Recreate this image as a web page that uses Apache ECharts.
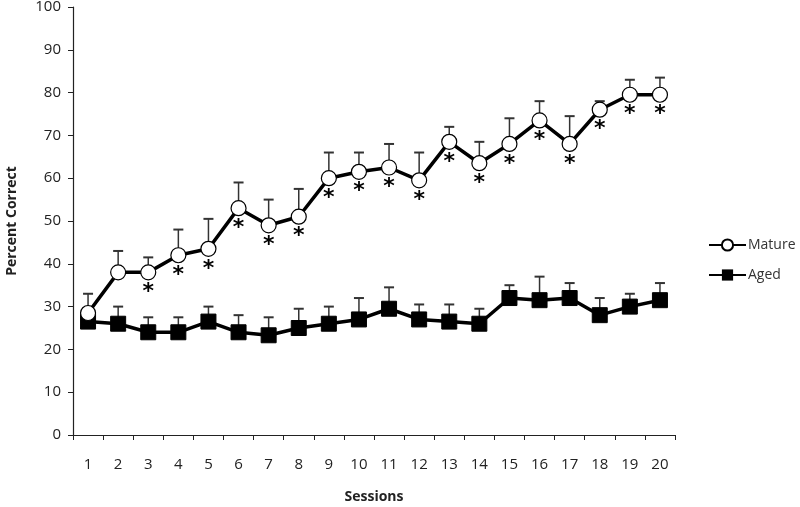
<!DOCTYPE html>
<html><head><meta charset="utf-8">
<script src="https://cdn.jsdelivr.net/npm/echarts@6/dist/echarts.min.js"></script>
<style>html,body{margin:0;padding:0;background:#fff}#c{width:800px;height:507px}</style>
</head><body><div id="c"></div>
<script>
const sessions = ['1','2','3','4','5','6','7','8','9','10','11','12','13','14','15','16','17','18','19','20'];
const matureMean = [28.5,38,38,42,43.5,53,49,51,60,61.5,62.5,59.5,68.5,63.5,68,73.5,68,76,79.5,79.5];
const matureUpper = [33,43,41.5,48,50.5,59,55,57.5,66,66,68,66,72,68.5,74,78,74.5,78,83,83.5];
const agedMean = [26.5,26,24,24,26.5,24,23.3,25,26,27,29.5,27,26.5,26,32,31.5,32,28,30,31.5];
const agedUpper = [29.5,30,27.5,27.5,30,28,27.5,29.5,30,32,34.5,30.5,30.5,29.5,35,37,35.5,32,33,35.5];
const significant = [0,0,1,1,1,1,1,1,1,1,1,1,1,1,1,1,1,1,1,1];
const yTicks = [0,10,20,30,40,50,60,70,80,90,100];

const FONT = 'Open Sans';
function errData(mean, upper){ return mean.map((m,i)=>[i, m, upper[i]]); }
function errItem(params, api){
  const x = api.value(0);
  const p0 = api.coord([x, api.value(1)]);
  const p1 = api.coord([x, api.value(2)]);
  const cw = 5;
  return {type:'group', children:[
    {type:'line', shape:{x1:p0[0],y1:p0[1],x2:p1[0],y2:p1[1]}, style:{stroke:'#333',lineWidth:1.5}},
    {type:'line', shape:{x1:p1[0]-cw,y1:p1[1],x2:p1[0]+cw,y2:p1[1]}, style:{stroke:'#333',lineWidth:2}}
  ]};
}
const starData = matureMean.map((m,i)=> significant[i] ? [i,m] : null).filter(d=>d);

const chart = echarts.init(document.getElementById('c'));
chart.setOption({
  animation:false,
  grid:{left:73,right:125,top:7,bottom:72,containLabel:false,outerBoundsMode:'none'},
  legend:{
    orient:'vertical', left:703, top:233, itemGap:16, itemWidth:37, itemHeight:14,
    textStyle:{fontFamily:FONT,fontSize:14,color:'#333',padding:[0,0,0,-3]},
    data:['Mature','Aged']
  },
  xAxis:{
    type:'category', data:sessions, boundaryGap:true,
    name:'Sessions', nameLocation:'middle', nameGap:55,
    nameTextStyle:{fontFamily:FONT,fontSize:14,fontWeight:'bold',color:'#222'},
    axisLine:{lineStyle:{color:'#222',width:1.2}},
    axisTick:{show:true,length:5,alignWithLabel:false,lineStyle:{color:'#222'}},
    axisLabel:{margin:22,fontFamily:FONT,fontSize:15,color:'#222'}
  },
  yAxis:{
    type:'value', min:0, max:100, interval:10,
    name:'Percent Correct', nameLocation:'middle', nameGap:54,
    nameTextStyle:{fontFamily:FONT,fontSize:14,fontWeight:'bold',color:'#222'},
    axisLine:{show:true,lineStyle:{color:'#222',width:1.2}},
    axisTick:{show:true,length:5,lineStyle:{color:'#222'}},
    axisLabel:{margin:12,fontFamily:FONT,fontSize:15,color:'#222',
      formatter:v=> yTicks.includes(v) ? String(v) : ''},
    splitLine:{show:false}
  },
  series:[
    {type:'custom', name:'errM', renderItem:errItem, data:errData(matureMean,matureUpper), z:1, silent:true},
    {type:'custom', name:'errA', renderItem:errItem, data:errData(agedMean,agedUpper), z:1, silent:true},
    {type:'line', name:'Aged', data:agedMean, symbol:'rect', symbolSize:15,
      lineStyle:{color:'#000',width:3.5}, itemStyle:{color:'#000',borderColor:'#000'}, z:3},
    {type:'line', name:'Mature', data:matureMean, symbol:'circle', symbolSize:15,
      lineStyle:{color:'#000',width:3.5}, itemStyle:{color:'#fff',borderColor:'#000',borderWidth:1.2}, z:4},
    {type:'custom', name:'stars', z:5, silent:true, data:starData,
      renderItem:(params, api)=>{
        const p = api.coord([api.value(0), api.value(1)]);
        return {type:'text', x:p[0], y:p[1]+9, style:{text:'*', fontFamily:'DejaVu Sans', fontSize:22, fontWeight:'bold', fill:'#000', textAlign:'center', textVerticalAlign:'top'}};
      }}
  ]
});
</script></body></html>
